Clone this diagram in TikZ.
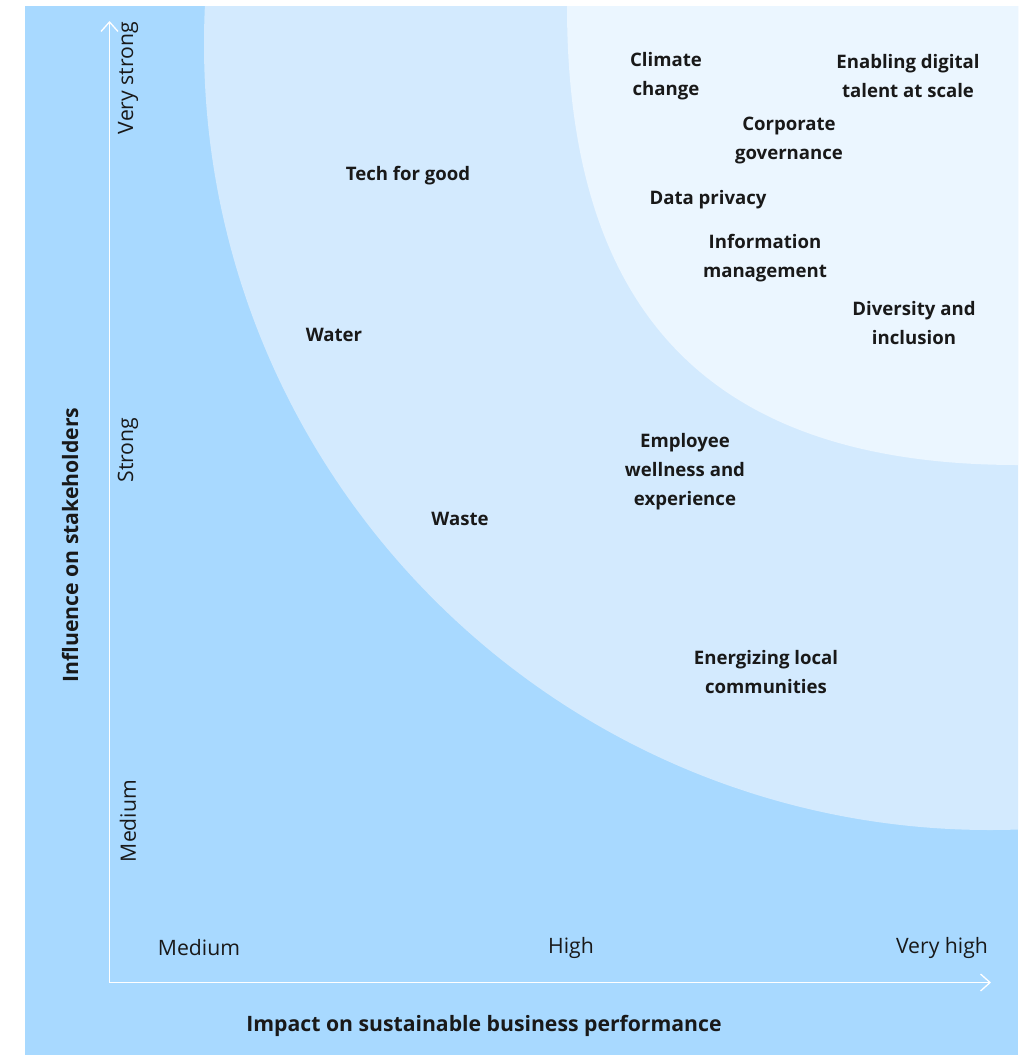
\documentclass[tikz,border=0pt]{standalone}
\usepackage{fontspec}
\setmainfont{Open Sans}
\usetikzlibrary{arrows.meta}
\definecolor{outerblue}{RGB}{168,217,255}
\definecolor{midblue}{RGB}{211,234,254}
\definecolor{innerblue}{RGB}{235,246,255}
\tikzset{
  lbl/.style={font=\bfseries\fontsize{18.6}{29}\selectfont, align=center, inner sep=0pt, text=black!90},
  tick/.style={font=\fontsize{21.2}{24}\selectfont, inner sep=0pt, text=black!90},
  axtitle/.style={font=\bfseries\fontsize{21.2}{24}\selectfont, inner sep=0pt, text=black!90},
  axline/.style={draw=white, line width=1.3pt, -{Straight Barb[length=9.5pt,width=17pt,line width=1.3pt]}}
}
\begin{document}
\begin{tikzpicture}[x=1pt,y=-1pt]
\useasboundingbox (0,0) rectangle (1028,1055);
\fill[outerblue] (25,6) rectangle (1018,1055);
\begin{scope}
  \clip (25,6) rectangle (1018,1055);
  \fill[midblue] (990,44) circle (786);
  \fill[innerblue] (567,6) .. controls (567,316) and (713,465) .. (1018,465) -- (1018,6) -- cycle;
\end{scope}
% axes
\coordinate (o) at (109.5,982.5);
\coordinate (ytop) at (109.5,21);
\coordinate (xend) at (991,982.5);
\draw[axline] (o) -- (ytop);
\draw[axline] (o) -- (xend);
% tick labels
\node[tick, rotate=90] (vs) at (128,78) {Very strong};
\node[tick, rotate=90] (st) at (128,450) {Strong};
\node[tick, rotate=90] (me) at (128,821) {Medium};
\node[tick] (xm) at (199,948) {Medium};
\node[tick] (xh) at (571,948) {High};
\node[tick] (xv) at (942,948) {Very high};
% axis titles
\node[axtitle, rotate=90] (ytitle) at (70,545) {Influence on stakeholders};
\node[axtitle] (xtitle) at (484,1026) {Impact on sustainable business performance};
% items
\node[lbl] (tech) at (408,176) {Tech for good};
\node[lbl] (water) at (334,335) {Water};
\node[lbl] (waste) at (460,519) {Waste};
\node[lbl] (climate) at (666,76) {Climate\\change};
\node[lbl] (talent) at (908,76) {Enabling digital\\talent at scale};
\node[lbl] (corp) at (789,140) {Corporate\\governance};
\node[lbl] (data) at (708,200) {Data privacy};
\node[lbl] (info) at (765,258) {Information\\management};
\node[lbl] (div) at (914,323) {Diversity and\\inclusion};
\node[lbl] (emp) at (685,472) {Employee\\wellness and\\experience};
\node[lbl] (energ) at (766,672) {Energizing local\\communities};
\end{tikzpicture}
\end{document}
